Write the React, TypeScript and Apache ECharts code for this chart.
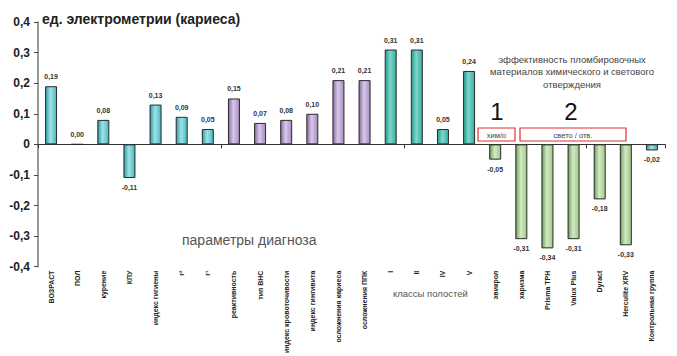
import React, { useEffect, useRef } from "react";
import * as echarts from "echarts";

const categories = [
  "ВОЗРАСТ", "ПОЛ", "курение", "КПУ", "индекс гигиены", "r²", "r¹",
  "реактивность", "тип ВНС", "индекс кровоточивости", "индекс гингивита",
  "осложнения кариеса", "осложнения ППК",
  "I", "II", "IV", "V",
  "эвикрол", "харизма", "Prisma TPH", "Valux Plus", "Dyract", "Herculite XRV",
  "Контрольная группа",
];
const values = [
  0.19, 0.0, 0.08, -0.11, 0.13, 0.09, 0.05,
  0.15, 0.07, 0.08, 0.10, 0.21, 0.21,
  0.31, 0.31, 0.05, 0.24,
  -0.05, -0.31, -0.34, -0.31, -0.18, -0.33,
  -0.02,
];
// colour group of each bar: 0 cyan, 1 purple, 2 teal, 3 green
const groups = [
  0, 0, 0, 0, 0, 0, 0,
  1, 1, 1, 1, 1, 1,
  2, 2, 2, 2,
  3, 3, 3, 3, 3, 3,
  0,
];
const yTicks = [-0.4, -0.3, -0.2, -0.1, 0, 0.1, 0.2, 0.3, 0.4];

const palettes = [
  ["#2e9fa6", "#9fe3e8", "#46b7bd"],
  ["#8a6ca4", "#d9c8ea", "#a58bbf"],
  ["#239a8e", "#7fd6cb", "#36ada2"],
  ["#6e9f5a", "#d2ebc4", "#9cc886"],
];

const fmt = (v: number) => v.toFixed(2).replace(".", ",");

export default function App() {
  const ref = useRef<HTMLDivElement>(null);
  useEffect(() => {
    if (!ref.current) return;
    const chart = echarts.init(ref.current, null, { renderer: "svg" });
    const data = values.map((v, i) => {
      const p = palettes[groups[i]];
      return {
        value: v,
        itemStyle: {
          color: new echarts.graphic.LinearGradient(0, 0, 1, 0, [
            { offset: 0, color: p[0] },
            { offset: 0.45, color: p[1] },
            { offset: 1, color: p[2] },
          ]),
        },
        label: { position: v < 0 ? "bottom" : "top" },
      };
    });
    chart.setOption({
      animation: false,
      backgroundColor: "#ffffff",
      grid: { left: 38, right: 12, top: 22, bottom: 89, containLabel: false },
      xAxis: [
        {
          type: "category",
          data: categories,
          position: "bottom",
          axisLine: { onZero: true, lineStyle: { color: "#333", width: 1 } },
          axisTick: { show: true, length: 4, lineStyle: { color: "#333" } },
          axisLabel: { show: false },
        },
        {
          type: "category",
          data: categories,
          position: "bottom",
          axisLine: { show: false, onZero: false },
          axisTick: { show: false },
          axisLabel: {
            interval: 0,
            rotate: 90,
            fontSize: 7,
            fontWeight: "bold",
            color: "#222",
            fontFamily: "Liberation Sans, Arial",
            margin: 4,
          },
        },
      ],
      yAxis: {
        type: "value",
        min: -0.4,
        max: 0.4,
        interval: 0.1,
        splitLine: { show: false },
        axisLine: { show: true, lineStyle: { color: "#777", width: 1.5 } },
        axisTick: { show: true, length: 4, lineStyle: { color: "#444" } },
        axisLabel: {
          formatter: (v: number) => {
            const t = yTicks.find((y) => Math.abs(y - v) < 1e-6);
            const val = t === undefined ? v : t;
            return val === 0 ? "0" : val.toFixed(1).replace(".", ",");
          },
          fontSize: 12,
          fontWeight: "bold",
          color: "#222",
          fontFamily: "Liberation Sans, Arial",
          margin: 8,
        },
      },
      series: [
        {
          type: "bar",
          xAxisIndex: 0,
          barWidth: 12,
          data,
          itemStyle: { borderColor: "#2a2a2a", borderWidth: 1 },
          label: {
            show: true,
            formatter: (p: any) => fmt(p.value),
            fontSize: 7,
            fontWeight: "bold",
            color: "#333",
            fontFamily: "Liberation Sans, Arial",
            distance: 6,
          },
        },
      ],
      graphic: [
        {
          type: "text",
          left: 42,
          top: 12,
          style: {
            text: "ед. электрометрии (кариеса)",
            fontSize: 14,
            fontWeight: "bold",
            fill: "#222",
            fontFamily: "Liberation Sans, Arial",
          },
        },
        {
          type: "text",
          left: 182,
          top: 233,
          style: {
            text: "параметры диагноза",
            fontSize: 14,
            fill: "#555",
            fontFamily: "Liberation Sans, Arial",
          },
        },
        {
          type: "text",
          left: 393,
          top: 288,
          style: {
            text: "классы полостей",
            fontSize: 9.5,
            fill: "#555",
            fontFamily: "Liberation Sans, Arial",
          },
        },
        {
          type: "text",
          x: 572,
          y: 53,
          style: {
            text: "эффективность пломбировочных\nматериалов химического и светового\nотверждения",
            fontSize: 9.5,
            lineHeight: 12.5,
            fill: "#444",
            align: "center",
            fontFamily: "Liberation Sans, Arial",
          },
        },
        {
          type: "text",
          x: 497,
          y: 99,
          style: { text: "1", fontSize: 24, fill: "#111", align: "center", fontFamily: "Liberation Sans, Arial" },
        },
        {
          type: "text",
          x: 571,
          y: 99,
          style: { text: "2", fontSize: 24, fill: "#111", align: "center", fontFamily: "Liberation Sans, Arial" },
        },
        {
          type: "rect",
          shape: { x: 478, y: 128, width: 37, height: 13 },
          style: { fill: "#fff", stroke: "#e03030", lineWidth: 1.2 },
        },
        {
          type: "text",
          x: 496.5,
          y: 131,
          style: { text: "хим/о", fontSize: 7.5, fill: "#444", align: "center", fontFamily: "Liberation Sans, Arial" },
        },
        {
          type: "rect",
          shape: { x: 520, y: 128, width: 106, height: 13 },
          style: { fill: "#fff", stroke: "#e03030", lineWidth: 1.2 },
        },
        {
          type: "text",
          x: 573,
          y: 131,
          style: { text: "свето / отв.", fontSize: 7.5, fill: "#444", align: "center", fontFamily: "Liberation Sans, Arial" },
        },
      ],
    });
    return () => chart.dispose();
  }, []);
  return <div ref={ref} style={{ width: 677, height: 356, position: "absolute", left: 0, top: 0 }} />;
}
